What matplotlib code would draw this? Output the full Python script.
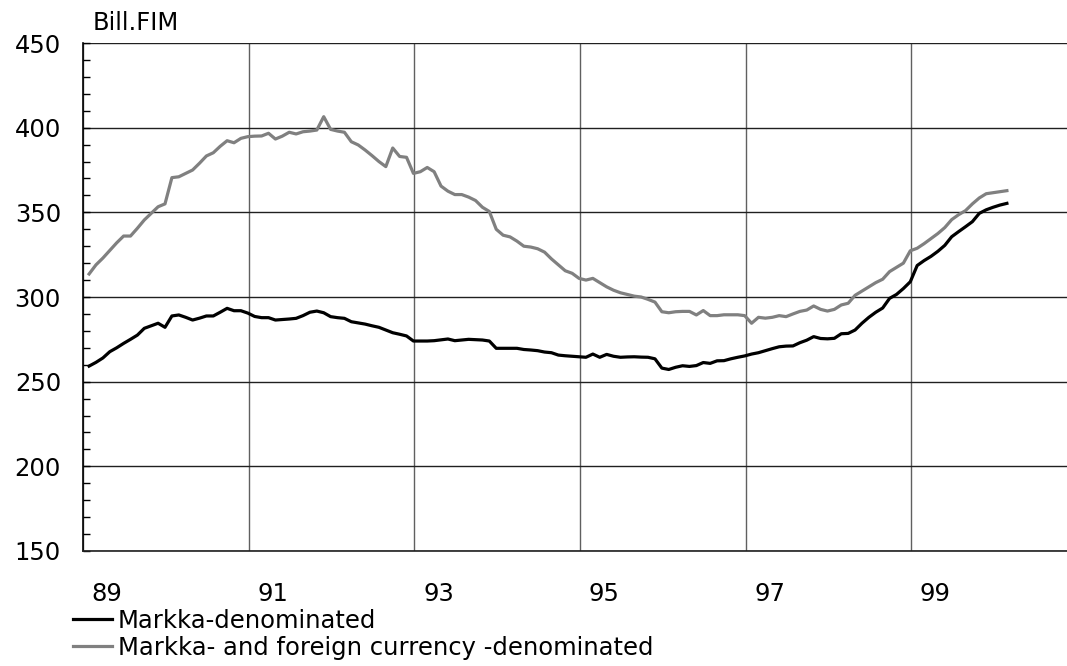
import numpy as np
import matplotlib
matplotlib.use("Agg")
from matplotlib import pyplot as plt
from matplotlib.ticker import MultipleLocator
from matplotlib.transforms import ScaledTranslation

# monthly stock, Jan 1989 - Feb 2000, bill. FIM
markka = [
    259.2, 261.4, 264.0, 267.7, 270.0, 272.6, 275.0, 277.5, 281.5, 283.0,
    284.5, 282.1, 288.8, 289.4, 288.0, 286.4, 287.5, 288.8, 288.8, 291.0,
    293.3, 291.9, 291.9, 290.5, 288.5, 287.8, 287.8, 286.4, 286.7, 287.0,
    287.4, 289.0, 291.0, 291.7, 290.7, 288.4, 287.8, 287.4, 285.4, 284.7,
    284.0, 283.0, 282.1, 280.5, 278.9, 278.0, 277.0, 274.0, 274.0, 274.0,
    274.2, 274.7, 275.2, 274.2, 274.6, 275.0, 274.8, 274.6, 274.0, 269.7,
    269.7, 269.7, 269.7, 269.0, 268.7, 268.3, 267.5, 267.1, 265.7, 265.3,
    265.0, 264.7, 264.4, 266.3, 264.4, 266.1, 265.0, 264.4, 264.6, 264.7,
    264.5, 264.4, 263.5, 258.0, 257.2, 258.5, 259.4, 259.0, 259.5, 261.3,
    260.8, 262.3, 262.4, 263.5, 264.4, 265.2, 266.3, 267.1, 268.3, 269.5,
    270.6, 271.0, 271.1, 273.0, 274.5, 276.6, 275.5, 275.3, 275.6, 278.3,
    278.5, 280.5, 284.5, 288.0, 291.0, 293.5, 299.2, 301.5, 305.0, 309.0,
    318.6, 321.5, 324.0, 327.0, 330.5, 335.6, 338.6, 341.5, 344.5, 349.4,
    351.5, 353.0, 354.3, 355.3,
]
markka_fx = [
    313.6, 319.0, 323.0, 327.5, 332.0, 336.0, 336.0, 340.6, 345.5, 349.4,
    353.3, 355.0, 370.5, 371.0, 373.0, 375.0, 379.0, 383.3, 385.2, 389.0,
    392.3, 391.1, 393.7, 394.7, 395.0, 395.1, 396.7, 393.3, 395.0, 397.3,
    396.3, 397.6, 398.0, 398.6, 406.5, 399.0, 398.0, 397.3, 391.7, 389.8,
    386.8, 383.5, 380.0, 377.0, 388.0, 383.0, 382.5, 373.0, 374.0, 376.5,
    374.0, 365.5, 362.5, 360.5, 360.5, 359.0, 357.0, 353.0, 350.5, 340.0,
    336.5, 335.5, 333.0, 330.0, 329.5, 328.5, 326.5, 322.5, 319.0, 315.5,
    314.0, 311.0, 310.0, 311.0, 308.5, 306.0, 304.0, 302.5, 301.5, 300.5,
    300.0, 298.6, 297.0, 291.3, 290.7, 291.3, 291.5, 291.5, 289.4, 292.0,
    289.0, 289.0, 289.5, 289.5, 289.5, 289.0, 284.5, 288.0, 287.5, 288.0,
    289.0, 288.4, 290.0, 291.5, 292.3, 294.7, 292.7, 291.7, 292.7, 295.3,
    296.3, 301.0, 303.5, 306.0, 308.5, 310.5, 315.0, 317.5, 320.0, 327.3,
    328.8, 331.5, 334.5, 337.5, 341.0, 345.7, 348.6, 351.0, 355.0, 358.5,
    361.0, 361.6, 362.2, 362.8,
]
year_ticks = [1989, 1991, 1993, 1995, 1997, 1999]
year_labels = ["89", "91", "93", "95", "97", "99"]

plt.rcParams["font.family"] = ["DejaVu Sans"]
plt.rcParams["font.size"] = 17.5

months = np.arange(len(markka))
x = 1989 + (months + 0.85) / 12

fig = plt.figure(figsize=(10.67, 6.66), dpi=100)
ax = fig.add_axes([0.078, 0.1727, 0.922, 0.7627])

ax.plot(x, markka, color="black", linewidth=2.3, label="Markka-denominated")
ax.plot(x, markka_fx, color="#808080", linewidth=2.3,
        label="Markka- and foreign currency -denominated")

ax.set_xlim(1989, 2000.88)
ax.set_ylim(150, 450)
ax.yaxis.set_major_locator(MultipleLocator(50))
ax.yaxis.set_minor_locator(MultipleLocator(10))
ax.set_xticks(year_ticks)
ax.set_xticklabels(year_labels)

ax.grid(axis="y", color="#202020", linewidth=1)
ax.grid(axis="x", color="#606060", linewidth=1)
ax.set_axisbelow(True)

for side in ["top", "right"]:
    ax.spines[side].set_visible(False)
ax.spines["left"].set_linewidth(1.2)
ax.spines["bottom"].set_linewidth(1.2)
ax.spines["bottom"].set_color("#202020")

ax.tick_params(axis="y", which="both", direction="in", length=5, width=1, pad=16)
ax.tick_params(axis="x", length=0, pad=22)
# Excel-style labels sit right of the gridline
shift = ScaledTranslation(24 / 100, 0, fig.dpi_scale_trans)
for lbl in ax.get_xticklabels():
    lbl.set_transform(lbl.get_transform() + shift)

fig.text(93 / 1067, 1 - 23 / 666, "Bill.FIM", va="center", ha="left")

ax.legend(loc="upper left", bbox_to_anchor=(73 / 1067, 1 - 609 / 666),
          bbox_transform=fig.transFigure, frameon=False, borderpad=0,
          borderaxespad=0, handlelength=1.6, handletextpad=0.25,
          labelspacing=0.12)

fig.savefig("out.png", dpi=100)
